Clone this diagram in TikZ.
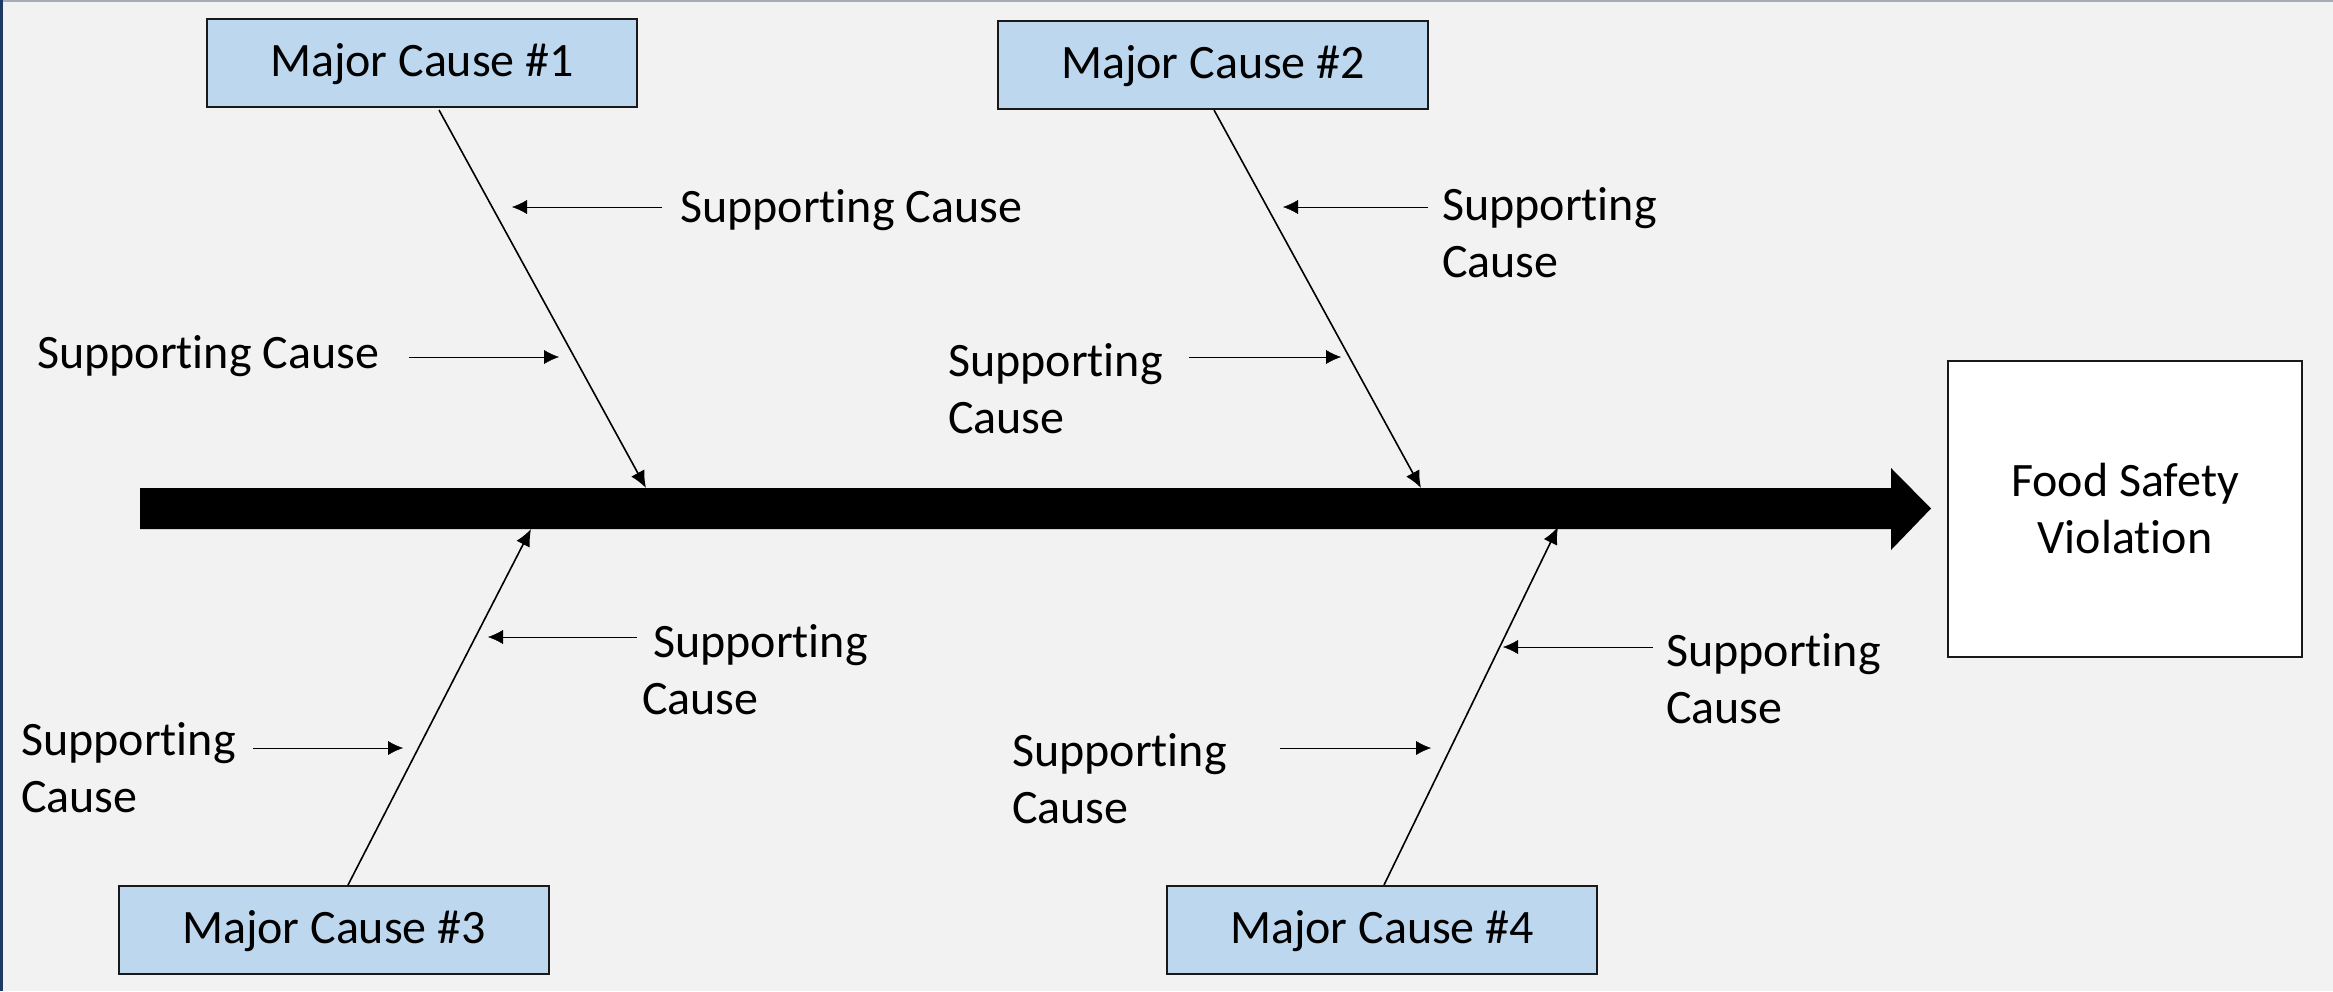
\documentclass[tikz,border=0pt]{standalone}
\usepackage{fontspec}
\setmainfont{Carlito}[RawFeature={-liga;-clig;-dlig}]
\usetikzlibrary{arrows.meta}
\definecolor{bg}{HTML}{F2F2F2}
\definecolor{boxblue}{HTML}{BDD7EE}
\definecolor{edgenavy}{HTML}{203864}
\definecolor{edgetop}{HTML}{A6ACB8}
\definecolor{thin}{HTML}{404040}
\newcommand{\Sp}{Support\kern0pt ing}
\tikzset{
  major/.style={draw=black!90, line width=2.8pt, fill=boxblue, minimum width=430pt, minimum height=88pt, inner sep=0pt, text height=32pt, text depth=4.5pt, font=\fontsize{48}{57}\selectfont},
  effect/.style={draw=black!90, line width=2.8pt, fill=white, minimum width=354pt, minimum height=296pt, inner sep=0pt, align=center, font=\fontsize{48}{57}\selectfont},
  supp/.style={anchor=west, align=left, inner sep=0pt, font=\fontsize{48}{57}\selectfont},
  bone/.style={line width=1.6pt, black, -{Latex[length=17pt,width=15pt]}},
  subarrow/.style={line width=2pt, thin, -{Latex[length=15pt,width=14pt]}},
}
\begin{document}
\begin{tikzpicture}[x=1pt,y=-1pt]
\useasboundingbox (0,0) rectangle (2333,991);
\fill[bg] (0,0) rectangle (2333,991);
\fill[edgetop] (0,0) rectangle (2333,1.5);
\fill[edgenavy] (0,0) rectangle (2.5,991);

% spine
\fill[black] (140,488) -- (1891,488) -- (1891,468) -- (1931,508.5) -- (1891,550) -- (1891,529) -- (140,529) -- cycle;

% effect
\node[effect] (effect) at (2125,509) {Food Safety\\Violation};

% major causes
\node[major] (m1) at (422,63) {Major Cause \#1};
\node[major] (m2) at (1213,65) {Major Cause \#2};
\node[major] (m3) at (334,930) {Major Cause \#3};
\node[major] (m4) at (1382,930) {Major Cause \#4};

% bone coordinates
\coordinate (b1s) at (439,110);
\coordinate (b1e) at (646,488);
\coordinate (b2s) at (1214,110);
\coordinate (b2e) at (1421,488);
\coordinate (b3s) at (348,885);
\coordinate (b3e) at (531,529);
\coordinate (b4s) at (1384,885);
\coordinate (b4e) at (1558,527);
\draw[bone] (b1s) -- (b1e);
\draw[bone] (b2s) -- (b2e);
\draw[bone] (b3s) -- (b3e);
\draw[bone] (b4s) -- (b4e);

% supporting causes
\node[supp] (s1) at (680,210) {\Sp{} Cause};
\node[supp] (s2) at (37,356) {\Sp{} Cause};
\node[supp] (s3) at (1442,233) {\Sp\\Cause};
\node[supp] (s4) at (948,389) {\Sp\\Cause};
\node[supp] (s5) at (642,670) {\hspace*{11pt}\Sp\\Cause};
\node[supp] (s6) at (21,768) {\Sp\\Cause};
\node[supp] (s7) at (1012,779) {\Sp\\Cause};
\node[supp] (s8) at (1666,679) {\Sp\\Cause};

\coordinate (a1s) at (662,207);  \coordinate (a1e) at (512,207);
\coordinate (a2s) at (409,357);  \coordinate (a2e) at (559,357);
\coordinate (a3s) at (1428,207); \coordinate (a3e) at (1283,207);
\coordinate (a4s) at (1189,357); \coordinate (a4e) at (1341,357);
\coordinate (a5s) at (637,637);  \coordinate (a5e) at (488,637);
\coordinate (a6s) at (253,748);  \coordinate (a6e) at (403,748);
\coordinate (a7s) at (1280,748); \coordinate (a7e) at (1431,748);
\coordinate (a8s) at (1653,647); \coordinate (a8e) at (1503,647);
\foreach \i in {1,...,8} {\draw[subarrow] (a\i s) -- (a\i e);}
\end{tikzpicture}
\end{document}
